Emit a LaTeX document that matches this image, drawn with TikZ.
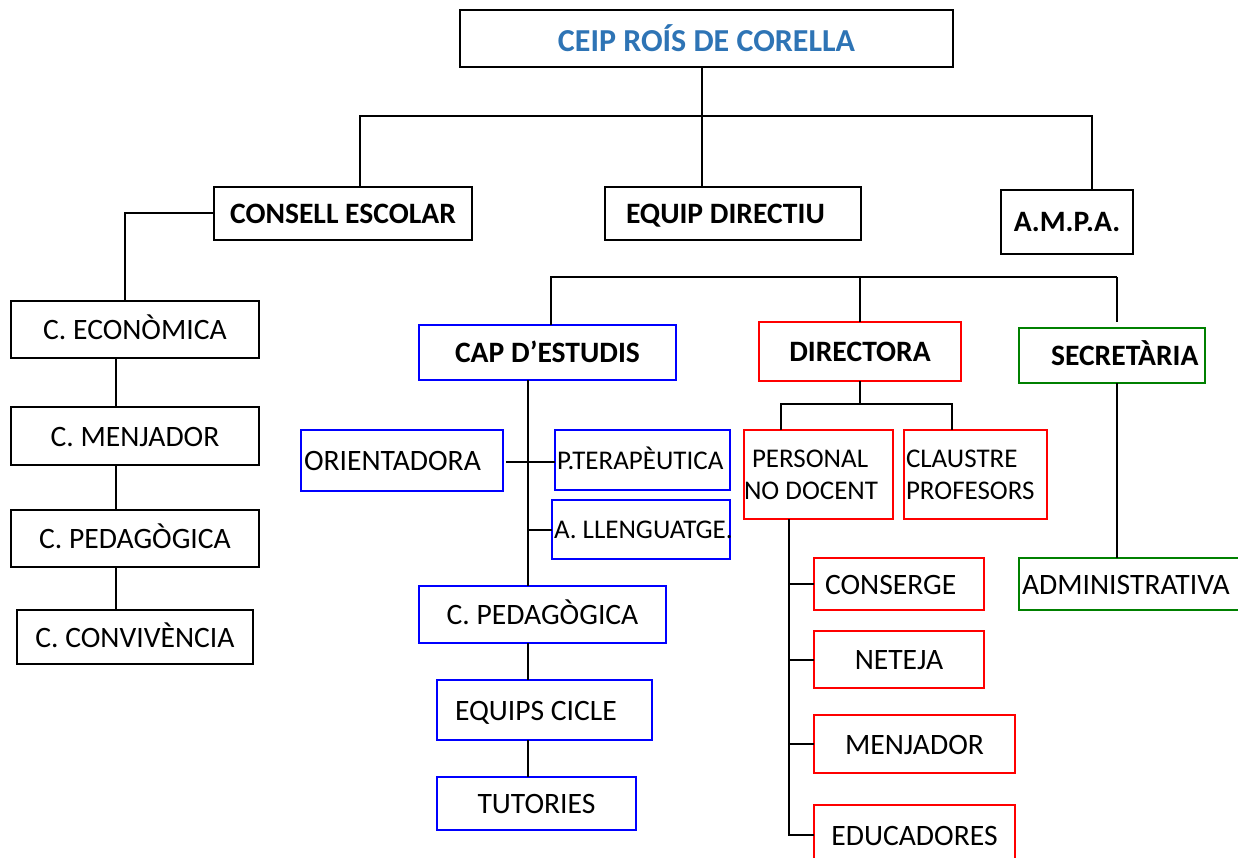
\documentclass[tikz,border=0pt]{standalone}
\usepackage{fontspec}
\setmainfont{Carlito}
\definecolor{titleblue}{RGB}{46,116,181}
\definecolor{grn}{RGB}{0,128,0}
\newcommand{\fnorm}{\fontsize{29.6}{34}\selectfont}
\newcommand{\fsmall}{\fontsize{27}{32}\selectfont}
\newcommand{\fbld}{\fontsize{29.6}{34}\selectfont\bfseries}
\newcommand{\ftitle}{\fontsize{32}{38}\selectfont\bfseries}
\newcommand{\obox}[7]{%
  \pgfmathsetmacro{\obw}{#4-#2}\pgfmathsetmacro{\obh}{#5-#3}%
  \node[bx, minimum width=\obw pt, minimum height=\obh pt, text width=\obw pt, #6] (#1) at (#2,#3) {#7};}
\tikzset{
  bx/.style={draw, line width=2pt, anchor=north west, inner sep=0pt, outer sep=0pt, font=\fnorm, align=flush center},
  lft/.style={align=flush left},
  bk/.style={draw=black},
  bl/.style={draw=blue},
  rd/.style={draw=red},
  gr/.style={draw=grn},
  sl/.style={text height=20pt, text depth=0pt},
  ss/.style={font=\fsmall, text height=18pt, text depth=0pt},
  ln/.style={line width=2pt, draw=black}
}
\begin{document}
\begin{tikzpicture}[x=1pt,y=-1pt]
\useasboundingbox (0,0) rectangle (1238,858);
% top
\obox{ceip}{460}{10}{953}{67}{bk, font=\ftitle, text=titleblue, text height=26pt, text depth=0pt}{CEIP ROÍS DE CORELLA}
\obox{ce}{214}{187}{472}{240}{bk, font=\fbld, sl}{CONSELL ESCOLAR}
\obox{ed}{605}{187}{861}{240}{bk, font=\fbld, sl, lft}{\mbox{\hspace*{21pt}EQUIP DIRECTIU}}
\obox{ampa}{1001}{190}{1133}{254}{bk, font=\fbld, sl}{A.M.P.A.}
% left column
\obox{ecn}{11}{301}{259}{358}{bk, sl}{C. ECONÒMICA}
\obox{mnj}{11}{407}{259}{465}{bk, sl}{C. MENJADOR}
\obox{ped}{11}{510}{259}{567}{bk, sl}{C. PEDAGÒGICA}
\obox{cnv}{17}{610}{253}{664}{bk, sl}{C. CONVIVÈNCIA}
% second level
\obox{cap}{419}{325}{676}{380}{bl, font=\fbld, sl}{CAP D’ESTUDIS}
\obox{dir}{759}{322}{961}{381}{rd, font=\fbld, sl}{DIRECTORA}
\obox{sec}{1019}{328}{1205}{383}{gr, font=\fbld, sl, lft}{\mbox{\hspace*{32pt}SECRETÀRIA}}
% cap d'estudis branch
\obox{ori}{301}{430}{503}{491}{bl, sl, lft}{\mbox{\hspace*{3pt}ORIENTADORA}}
\obox{pt}{555}{430}{730}{490}{bl, ss, lft}{\mbox{\hspace*{2pt}P.TERAPÈUTICA}}
\obox{al}{552}{500}{730}{559}{bl, ss, lft}{\mbox{\hspace*{2pt}A. LLENGUATGE.}}
\obox{cped}{419}{586}{666}{643}{bl, sl}{C. PEDAGÒGICA}
\obox{eqc}{437}{680}{652}{740}{bl, sl, lft}{\mbox{\hspace*{18pt}EQUIPS CICLE}}
\obox{tut}{437}{777}{636}{830}{bl, sl}{TUTORIES}
% directora branch
\obox{pnd}{744}{430}{893}{519}{rd, font=\fsmall, lft}{\mbox{\hspace*{8pt}PERSONAL}\\\mbox{NO DOCENT}}
\obox{cla}{904}{430}{1047}{519}{rd, font=\fsmall, lft}{\mbox{\hspace*{2pt}CLAUSTRE}\\\mbox{\hspace*{2pt}PROFESORS}}
\obox{cns}{814}{558}{984}{610}{rd, sl, lft}{\mbox{\hspace*{11pt}CONSERGE}}
\obox{net}{814}{631}{984}{688}{rd, sl}{NETEJA}
\obox{men}{814}{715}{1015}{773}{rd, sl}{MENJADOR}
\obox{edu}{814}{805}{1015}{865}{rd, sl}{EDUCADORES}
% secretaria branch
\obox{adm}{1019}{558}{1245}{610}{gr, sl, lft}{\mbox{\hspace*{3pt}ADMINISTRATIVA}}
% connectors
\coordinate (h1l) at (360,116);
\coordinate (h1r) at (1092,116);
\coordinate (t1) at (702,116);
\draw[ln] (ceip.south -| t1) -- (ed.north -| t1);
\draw[ln] (ce.north -| h1l) -- (h1l) -- (h1r) -- (ampa.north -| h1r);
\coordinate (c1) at (125,213);
\draw[ln] (ce.west |- c1) -| (ecn.north -| c1);
\coordinate (lc) at (116,0);
\draw[ln] (ecn.south -| lc) -- (mnj.north -| lc);
\draw[ln] (mnj.south -| lc) -- (ped.north -| lc);
\draw[ln] (ped.south -| lc) -- (cnv.north -| lc);
\coordinate (s1) at (551,277);
\coordinate (s3) at (1117,277);
\draw[ln] (cap.north -| s1) -- (s1) -- (s3);
\draw[ln, shorten >=6pt] (s3) -- (sec.north -| s3);
\draw[ln] (dir.north) -- (dir.north |- s1);
\coordinate (cx) at (528,0);
\draw[ln] (cap.south -| cx) -- (cped.north -| cx);
\coordinate (oy) at (0,462);
\draw[ln] ([xshift=3pt]ori.east |- oy) -- (pt.west |- oy);
\draw[ln] (al.west -| cx) -- (al.west);
\draw[ln] (cped.south -| cx) -- (eqc.north -| cx);
\draw[ln] (eqc.south -| cx) -- (tut.north -| cx);
\coordinate (d1) at (781,404);
\coordinate (d2) at (952,404);
\draw[ln] (dir.south) -- (dir.south |- d1);
\draw[ln] (pnd.north -| d1) -- (d1) -- (d2) -- (cla.north -| d2);
\coordinate (px) at (789,0);
\draw[ln] (pnd.south -| px) |- (edu.west);
\draw[ln] (cns.west -| px) -- (cns.west);
\draw[ln] (net.west -| px) -- (net.west);
\draw[ln] (men.west -| px) -- (men.west);
\draw[ln] (sec.south -| s3) -- (adm.north -| s3);
\end{tikzpicture}
\end{document}
